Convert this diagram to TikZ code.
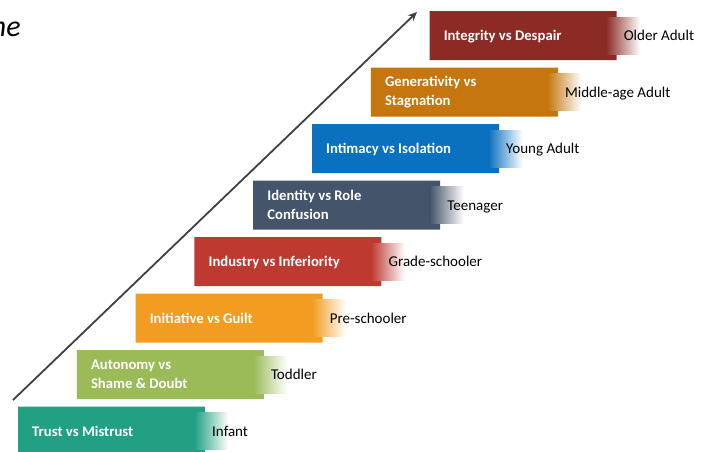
\documentclass[tikz,border=0pt]{standalone}
\usepackage{fontspec}
\setmainfont{Carlito}
\usetikzlibrary{arrows.meta}
\definecolor{cTrust}{RGB}{33,160,132}
\definecolor{cAuto}{RGB}{155,187,89}
\definecolor{cInit}{RGB}{243,156,34}
\definecolor{cInd}{RGB}{190,57,48}
\definecolor{cIdent}{RGB}{68,84,106}
\definecolor{cIntim}{RGB}{10,112,192}
\definecolor{cGen}{RGB}{197,118,14}
\definecolor{cInteg}{RGB}{140,43,38}
\definecolor{arrowgray}{RGB}{64,64,64}
\begin{document}
\begin{tikzpicture}[x=1pt,y=-1pt,
  stagebase/.style={text=white, font=\bfseries\fontsize{14.7}{19}\selectfont, anchor=west, align=left, inner sep=0pt},
  stageone/.style={stagebase, text height=10pt, text depth=3pt, yshift=-1.5pt},
  stagetwo/.style={stagebase},
  agelbl/.style={text=black, font=\fontsize{15}{17}\selectfont, anchor=west, inner sep=0pt, text height=10pt, text depth=3pt, yshift=-1.5pt},
  riser/.style={draw=arrowgray, line width=1.8pt, -{Stealth[length=9pt,width=8pt]}},
  hand/.style={font=\itshape\fontsize{30}{30}\selectfont, anchor=base east, inner sep=0pt}]
\useasboundingbox (0,0) rectangle (708,451);
\clip (0,0) rectangle (708,451);
\node[hand] (title) at (21,36) {me};
\coordinate (arrS) at (13,400);
\coordinate (arrE) at (417,12);
\draw[riser] (arrS) -- (arrE);
\foreach \i/\c/\s/\t/\a/\n in {
  0/cTrust/stageone/{Trust vs Mistrust}/{Infant}/trust,
  1/cAuto/stagetwo/{Autonomy vs\\Shame \& Doubt}/{Toddler}/auto,
  2/cInit/stageone/{Initiative vs Guilt}/{Pre-schooler}/init,
  3/cInd/stageone/{Industry vs Inferiority}/{Grade-schooler}/ind,
  4/cIdent/stagetwo/{Identity vs Role\\Confusion}/{Teenager}/ident,
  5/cIntim/stageone/{Intimacy vs Isolation}/{Young Adult}/intim,
  6/cGen/stagetwo/{Generativity vs\\Stagnation}/{Middle-age Adult}/gen,
  7/cInteg/stageone/{Integrity vs Despair}/{Older Adult}/integ} {
  \pgfmathsetmacro\L{18+58.8*\i}
  \pgfmathsetmacro\T{406.5-56.5*\i}
  \fill[\c] (\L,\T) -- ++(187,0) -- ++(0,6) -- ++(-10,0) -- ++(0,37) -- ++(10,0) -- ++(0,6) -- ++(-187,0) -- cycle;
  \shade[left color=\c, right color=white] (\L+176.5,\T+6) rectangle ++(34,37);
  \node[\s] (s\n) at (\L+14,\T+24.5) {\t};
  \node[agelbl] (a\n) at (\L+194,\T+24.5) {\a};
}
\end{tikzpicture}
\end{document}
